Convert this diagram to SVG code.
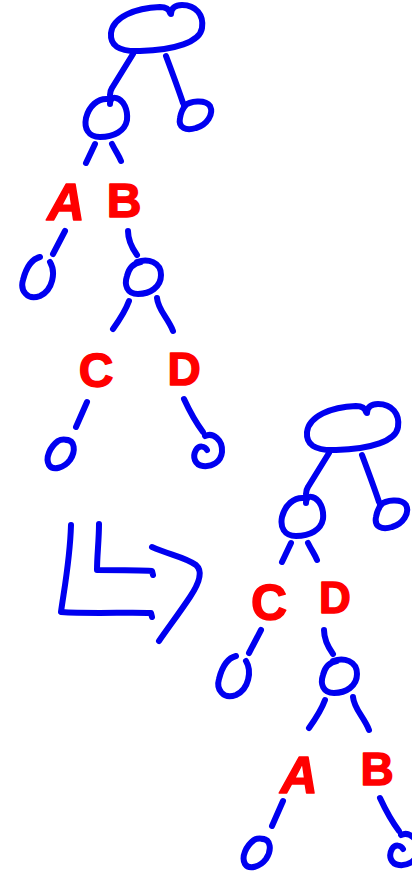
<svg xmlns="http://www.w3.org/2000/svg" width="412" height="872" viewBox="0 0 412 872">
  <style>
    .ink { fill: none; stroke: #0000f0; stroke-width: 6; stroke-linecap: round; stroke-linejoin: round; }
    .lbl { fill: #ff0000; stroke: #ff0000; stroke-width: 1.5; stroke-linejoin: round; font-family: "Liberation Sans", "DejaVu Sans", sans-serif; font-weight: bold; text-anchor: middle; }
  </style>
  <rect width="412" height="872" fill="#ffffff"/>

  <!-- upper tree: A, B under the left child -->
  <g id="t1-root"><path class="ink" d="M 171 14 C 171 8, 175 5, 182 5 C 196 5, 204 15, 202 28 C 200 42, 175 50, 140 51 C 118 52, 110 45, 111 33 C 113 17, 135 8, 160 7 C 166 7, 169 9, 170 13"/></g>
  <g id="t1-left"><path class="ink" d="M 110 104 C 110 99, 113 97, 116 98 C 124 100, 128 110, 127 120 C 125 131, 114 137, 100 137 C 88 137, 84 128, 86 118 C 89 106, 98 98, 108 99"/></g>
  <g id="t1-right"><path class="ink" d="M 184 106 C 190 101, 205 99, 210 106 C 214 114, 207 125, 196 128 C 186 131, 178 128, 180 118 C 181 112, 183 108, 186 105"/></g>
  <g id="t1-A"><text class="lbl" x="66" y="220" font-size="52" font-style="italic">A</text></g>
  <g id="t1-B"><text class="lbl" x="124" y="217" font-size="48">B</text></g>
  <g id="t1-leafA"><path class="ink" d="M 50 262 C 56 272, 53 290, 40 296 C 27 301, 20 290, 23 280 C 26 268, 32 259, 40 257"/></g>
  <g id="t1-mid"><path class="ink" d="M 137 262 C 148 258, 161 262, 161 275 C 161 287, 150 294, 138 294 C 127 294, 124 285, 127 276 C 129 268, 134 263, 141 262"/></g>
  <g id="t1-C"><text class="lbl" x="96" y="387" font-size="48">C</text></g>
  <g id="t1-D"><text class="lbl" x="184" y="385" font-size="46">D</text></g>
  <g id="t1-leafC"><path class="ink" d="M 66 440 C 75 440, 76 451, 70 460 C 64 468, 53 471, 49 465 C 45 458, 50 447, 58 441 C 61 439, 64 439, 68 440"/></g>
  <g id="t1-leafD"><path class="ink" d="M 205 436 C 213 432, 223 440, 222 452 C 221 462, 212 467, 203 466 C 195 465, 192 457, 196 450 C 199 445, 205 446, 207 450"/></g>

  <!-- lower tree: same shape, C, D moved up -->
  <g id="t2-root" transform="translate(196,399)"><path class="ink" d="M 171 14 C 171 8, 175 5, 182 5 C 196 5, 204 15, 202 28 C 200 42, 175 50, 140 51 C 118 52, 110 45, 111 33 C 113 17, 135 8, 160 7 C 166 7, 169 9, 170 13"/></g>
  <g id="t2-left" transform="translate(196,399)"><path class="ink" d="M 110 104 C 110 99, 113 97, 116 98 C 124 100, 128 110, 127 120 C 125 131, 114 137, 100 137 C 88 137, 84 128, 86 118 C 89 106, 98 98, 108 99"/></g>
  <g id="t2-right" transform="translate(196,399)"><path class="ink" d="M 184 106 C 190 101, 205 99, 210 106 C 214 114, 207 125, 196 128 C 186 131, 178 128, 180 118 C 181 112, 183 108, 186 105"/></g>
  <g id="t2-C"><text class="lbl" x="269" y="620" font-size="50">C</text></g>
  <g id="t2-D"><text class="lbl" x="335" y="613" font-size="44">D</text></g>
  <g id="t2-leafC" transform="translate(196,399)"><path class="ink" d="M 50 262 C 56 272, 53 290, 40 296 C 27 301, 20 290, 23 280 C 26 268, 32 259, 40 257"/></g>
  <g id="t2-mid" transform="translate(196,399)"><path class="ink" d="M 137 262 C 148 258, 161 262, 161 275 C 161 287, 150 294, 138 294 C 127 294, 124 285, 127 276 C 129 268, 134 263, 141 262"/></g>
  <g id="t2-A"><text class="lbl" x="299" y="793" font-size="52" font-style="italic">A</text></g>
  <g id="t2-B"><text class="lbl" x="377" y="785" font-size="46">B</text></g>
  <g id="t2-leafA" transform="translate(196,399)"><path class="ink" d="M 66 440 C 75 440, 76 451, 70 460 C 64 468, 53 471, 49 465 C 45 458, 50 447, 58 441 C 61 439, 64 439, 68 440"/></g>
  <g id="t2-leafB" transform="translate(196,399)"><path class="ink" d="M 205 436 C 213 432, 223 440, 222 452 C 221 462, 212 467, 203 466 C 195 465, 192 457, 196 450 C 199 445, 205 446, 207 450"/></g>

  <!-- connectors -->
  <g id="connectors">
    <g id="t1-edges">
      <path class="ink" d="M 133 54 L 112 88 Q 110 91 110 95"/>
      <path class="ink" d="M 166 56 C 172 72, 178 88, 183 103"/>
      <path class="ink" d="M 95 144 L 86 163"/>
      <path class="ink" d="M 112 144 C 116 152, 119 156, 121 161"/>
      <path class="ink" d="M 65 231 L 53 254"/>
      <path class="ink" d="M 128 231 C 128 240, 132 248, 137 255"/>
      <path class="ink" d="M 129 301 C 125 312, 118 322, 113 329"/>
      <path class="ink" d="M 157 298 C 158 310, 168 318, 173 331"/>
      <path class="ink" d="M 87 402 L 76 427"/>
      <path class="ink" d="M 184 399 C 190 412, 197 424, 203 432"/>
    </g>
    <g id="t2-edges" transform="translate(196,399)">
      <path class="ink" d="M 133 54 L 112 88 Q 110 91 110 95"/>
      <path class="ink" d="M 166 56 C 172 72, 178 88, 183 103"/>
      <path class="ink" d="M 95 144 L 86 163"/>
      <path class="ink" d="M 112 144 C 116 152, 119 156, 121 161"/>
      <path class="ink" d="M 65 231 L 53 254"/>
      <path class="ink" d="M 128 231 C 128 240, 132 248, 137 255"/>
      <path class="ink" d="M 129 301 C 125 312, 118 322, 113 329"/>
      <path class="ink" d="M 157 298 C 158 310, 168 318, 173 331"/>
      <path class="ink" d="M 87 402 L 76 427"/>
      <path class="ink" d="M 184 399 C 190 412, 197 424, 203 432"/>
    </g>
  </g>

  <!-- rotate arrow between the two trees -->
  <g id="rotate-arrow">
    <path class="ink" d="M 71 525 C 70 560, 64 590, 61 612 C 90 614, 130 612, 151 613 L 152 617"/>
    <path class="ink" d="M 99 524 C 99 540, 97 556, 97 570 C 115 570, 140 570, 152 571 L 153 575"/>
    <path class="ink" d="M 152 547 C 170 555, 185 557, 196 565 C 204 572, 198 585, 190 597 C 180 612, 168 628, 159 641"/>
  </g>
</svg>
